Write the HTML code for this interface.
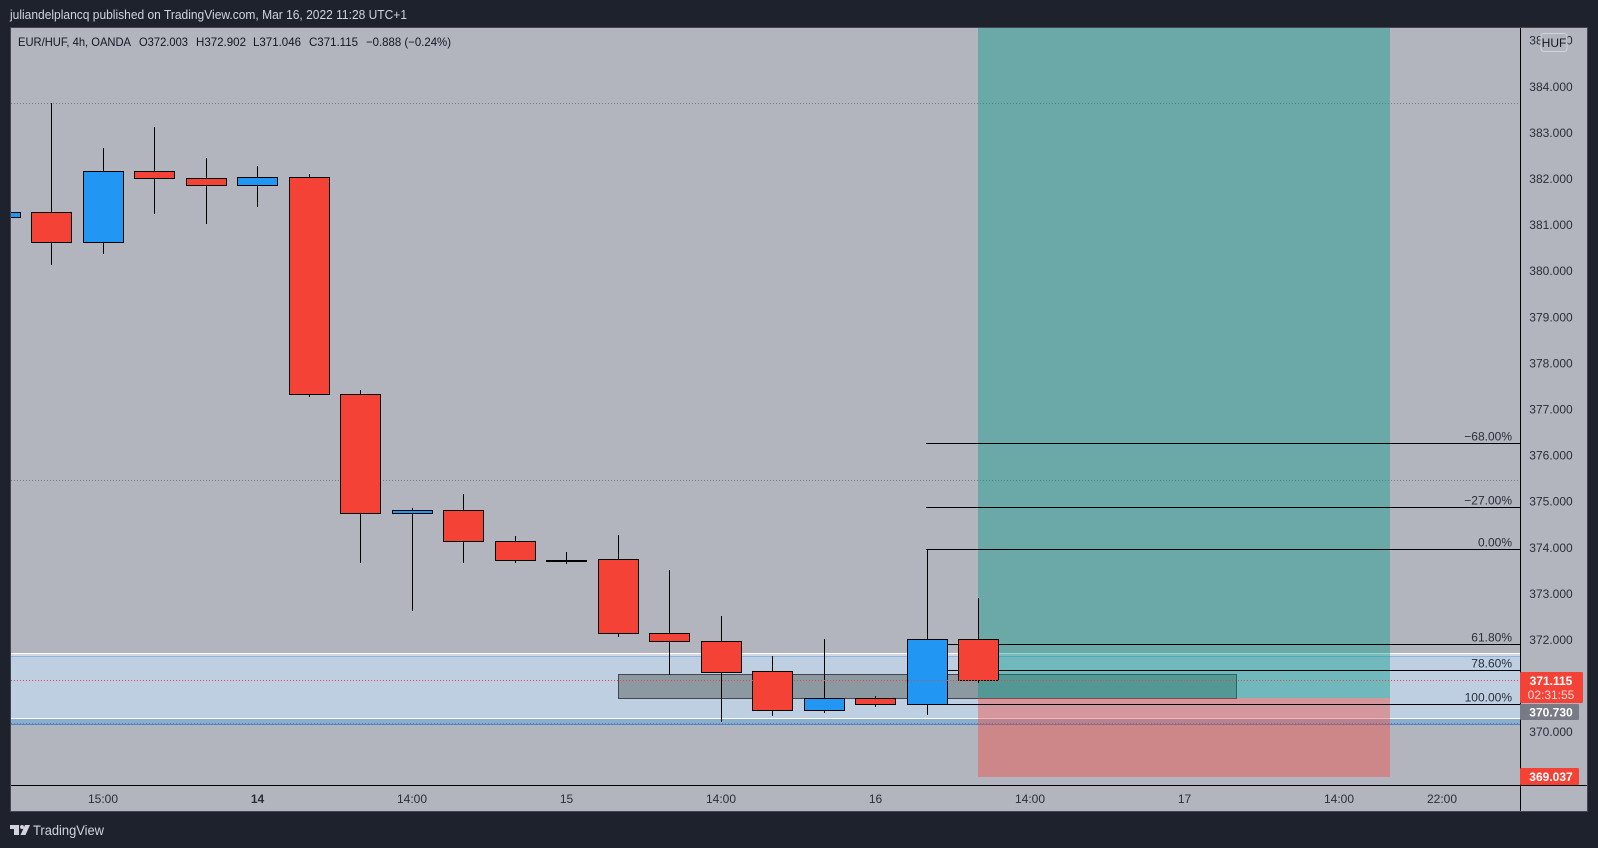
<!DOCTYPE html>
<html lang="en">
<head>
<meta charset="utf-8">
<title>EUR/HUF 4h chart</title>
<style>
html,body{margin:0;padding:0;background:#1e222d;width:1598px;height:848px;overflow:hidden}
svg{display:block;font-family:"Liberation Sans",sans-serif}
</style>
</head>
<body>
<svg id="root" width="1598" height="848" viewBox="0 0 1598 848" xmlns="http://www.w3.org/2000/svg">
  <defs><clipPath id="paneClip"><rect x="11" y="28" width="1509" height="757"/></clipPath></defs>
  <rect x="0" y="0" width="1598" height="848" fill="#1e222d"/>
  <text x="10" y="19" font-size="12.5" fill="#d1d4dc" textLength="397" lengthAdjust="spacingAndGlyphs">juliandelplancq published on TradingView.com, Mar 16, 2022 11:28 UTC+1</text>
  <rect x="10.5" y="27.5" width="1577" height="784" fill="#b2b5be" stroke="#434651"/>
  <g id="plot" clip-path="url(#paneClip)"></g>
  <g id="axes"></g>
  <g font-size="12" fill="#131722">
    <text x="18" y="46" textLength="113" lengthAdjust="spacingAndGlyphs">EUR/HUF, 4h, OANDA</text>
    <text x="139" y="46" textLength="49" lengthAdjust="spacingAndGlyphs">O372.003</text>
    <text x="196" y="46" textLength="50" lengthAdjust="spacingAndGlyphs">H372.902</text>
    <text x="253" y="46" textLength="48" lengthAdjust="spacingAndGlyphs">L371.046</text>
    <text x="309" y="46" textLength="49" lengthAdjust="spacingAndGlyphs">C371.115</text>
    <text x="366" y="46" textLength="85" lengthAdjust="spacingAndGlyphs">−0.888 (−0.24%)</text>
  </g>
  <g>
    <polygon points="10,825 19,825 19,835 14,835 14,829 10,829" fill="#d1d4dc"/>
    <circle cx="22" cy="827" r="2" fill="#d1d4dc"/>
    <polygon points="25,825 30,825 25.5,835 20.5,835" fill="#d1d4dc"/>
    <text x="33" y="835" font-size="14" fill="#d1d4dc" textLength="71" lengthAdjust="spacingAndGlyphs">TradingView</text>
  </g>
</svg>
<script>
// ---- candle data ----
const opens  = [381.16,381.27,380.62,382.16,382.00,381.85,382.03,377.32,374.73,374.80,374.14,373.73,373.74,372.13,371.96,371.31,370.46,370.72,370.59,372.003];
const highs  = [381.30,383.63,382.66,383.12,382.44,382.27,382.10,377.41,374.86,375.15,374.25,373.90,374.27,373.51,372.51,371.64,372.01,370.77,373.96,372.902];
const lows   = [381.10,380.12,380.37,381.24,381.02,381.39,377.27,373.67,372.61,373.67,373.67,373.64,372.06,371.24,370.20,370.35,370.41,370.54,370.37,371.046];
const closes = [381.27,380.62,382.16,382.00,381.85,382.03,377.32,374.73,374.80,374.14,373.71,373.715,372.13,371.96,371.30,370.46,370.72,370.59,372.00,371.115];

// ---- axis labels ----
const priceTicks = [385,384,383,382,381,380,379,378,377,376,375,374,373,372,370];
const timeSlots  = [1,4,7,10,13,16,19,22,25,27];
const timeLabels = ['15:00','14','14:00','15','14:00','16','14:00','17','14:00','22:00'];
const timeBold   = [false,true,false,false,false,false,false,false,false,false];

// ---- drawing-tool values ----
const fibLevels  = ['−68.00%','−27.00%','0.00%','61.80%','78.60%','100.00%'];
const fibPrices  = [376.25,374.86,373.96,371.90,371.33,370.59];
const dottedPrices = [383.63,375.44,370.17];
const lastPrice = 371.115;
const entryPrice = 370.73;
const stopPrice = 369.037;
const targetPrice = 385.5;
const countdown = '02:31:55';

// ---- axis functions ----
const xOf = i => 51.5 * (i + 1);
const yOf = p => 639.5 + (372 - p) * 46.1;
const snap = v => Math.floor(v) + 0.5;
const NS = 'http://www.w3.org/2000/svg';
const plot = document.getElementById('plot');
const axes = document.getElementById('axes');
function make(tag, attrs, parent) {
  const el = document.createElementNS(NS, tag);
  for (const k in attrs) el.setAttribute(k, attrs[k]);
  parent.appendChild(el);
  return el;
}

// demand zone band
const bandTop = make('rect', {x:0, y:653, width:1530, height:1, fill:'#ffffff'}, plot);


const bandGap = make('rect', {x:0, y:654, width:1530, height:2, fill:'#d3d8e1'}, plot);


const bandLine = make('rect', {x:0, y:656, width:1530, height:1, fill:'#8db5df'}, plot);


const bandFill = make('rect', {x:0, y:657, width:1530, height:61, fill:'#bdcfe1'}, plot);


const bandBottom = make('rect', {x:0, y:718, width:1530, height:1, fill:'#ffffff'}, plot);


const bandStrip = make('rect', {x:0, y:719, width:1530, height:5, fill:'#8aaecf'}, plot);


const bandBase = make('rect', {x:0, y:724, width:1530, height:1, fill:'#4a88cc'}, plot);



// dotted horizontal lines
dottedPrices.forEach(p => {
  const y = snap(yOf(p));
  const line = make('line', {x1:11, x2:1520, y1:y, y2:y, stroke:'#787b86', 'stroke-width':1, 'stroke-dasharray':'1 2'}, plot);
  
  
});

// grey rectangle drawing
const grayX1 = xOf(11), grayX2 = xOf(23);
const gray = make('rect', {x:snap(grayX1), y:snap(yOf(371.24)), width:Math.round(grayX2-grayX1), height:24, fill:'rgba(70,72,66,.4)', stroke:'#434651', 'stroke-width':1, 'shape-rendering':'crispEdges'}, plot);



// long position tool
const posX = Math.floor(xOf(18)), posW = Math.floor(xOf(26)) - posX;
const profitBottom = Math.round(yOf(entryPrice));
const lossBottom = Math.round(yOf(stopPrice) + 0.6);
const profit = make('rect', {x:posX, y:yOf(targetPrice), width:posW, height:profitBottom-yOf(targetPrice), fill:'rgba(0,150,136,.4)', 'shape-rendering':'crispEdges'}, plot);


const loss = make('rect', {x:posX, y:profitBottom, width:posW, height:lossBottom-profitBottom, fill:'rgba(244,67,54,.4)', 'shape-rendering':'crispEdges'}, plot);



// fib lines
fibLevels.forEach((lab, i) => {
  const y = snap(yOf(fibPrices[i]));
  const line = make('line', {x1:xOf(17)-1, x2:1520, y1:y, y2:y, stroke:'#000', 'stroke-width':1, 'shape-rendering':'crispEdges'}, plot);
  
  
  const t = make('text', {x:1512, y:y-3, 'text-anchor':'end', 'font-size':12, fill:'#2a2e39'}, plot);
  t.textContent = lab;
  
  
});

// candles
opens.forEach((o, i) => {
  const c = closes[i], h = highs[i], l = lows[i];
  const cx = snap(xOf(i - 1));
  const wick = make('line', {x1:cx, x2:cx, y1:Math.round(yOf(h)), y2:Math.round(yOf(l)), stroke:'#000', 'stroke-width':1, 'shape-rendering':'crispEdges'}, plot);
  
  
  const top = snap(yOf(Math.max(o, c)) + 0.3), bot = snap(yOf(Math.min(o, c)) + 0.3);
  const body = make('rect', {x:cx-20, y:top, width:40, height:Math.max(bot-top,1), fill:c>=o?'#2196f3':'#f44336', stroke:'#000', 'stroke-width':1, 'shape-rendering':'crispEdges'}, plot);
  
  
});

// last price line
const lastY = snap(yOf(lastPrice));
const lastLine = make('line', {x1:11, x2:1520, y1:lastY, y2:lastY, stroke:'#f44336', 'stroke-width':1, 'stroke-dasharray':'1 2'}, plot);



// axis lines
const vAxis = make('line', {x1:1520.5, x2:1520.5, y1:28, y2:811, stroke:'#000', 'stroke-width':1}, axes);


const hAxis = make('line', {x1:11, x2:1587, y1:785.5, y2:785.5, stroke:'#000', 'stroke-width':1}, axes);



// price ticks
priceTicks.forEach(p => {
  const t = make('text', {x:1551, y:yOf(p)+4.5, 'text-anchor':'middle', 'font-size':12, fill:'#2a2e39'}, axes);
  t.textContent = p.toFixed(3);
  
  
});

// time ticks
timeSlots.forEach((s, i) => {
  const t = make('text', {x:xOf(s), y:803, 'text-anchor':'middle', 'font-size':12, 'font-weight':timeBold[i]?'bold':'normal', fill:'#2a2e39'}, axes);
  t.textContent = timeLabels[i];
  
  
});

// price tags
const tagLast = make('rect', {x:1520, y:672, width:63, height:31, rx:1, fill:'#f44336'}, axes);


const tagLastText = make('text', {x:1551, y:685, 'text-anchor':'middle', 'font-size':12, 'font-weight':'bold', fill:'#fff'}, axes);
tagLastText.textContent = lastPrice.toFixed(3);


const tagCount = make('text', {x:1551, y:699, 'text-anchor':'middle', 'font-size':12, fill:'#fcdcd9'}, axes);
tagCount.textContent = countdown;


const tagEntry = make('rect', {x:1520, y:704, width:59, height:16, rx:1, fill:'#787b86'}, axes);


const tagEntryText = make('text', {x:1551, y:716.5, 'text-anchor':'middle', 'font-size':12, 'font-weight':'bold', fill:'#fff'}, axes);
tagEntryText.textContent = entryPrice.toFixed(3);


const tagStop = make('rect', {x:1520, y:768, width:59, height:17, rx:1, fill:'#f44336'}, axes);


const tagStopText = make('text', {x:1551, y:781, 'text-anchor':'middle', 'font-size':12, 'font-weight':'bold', fill:'#fff'}, axes);
tagStopText.textContent = stopPrice.toFixed(3);



// currency button
const hufBox = make('rect', {x:1541, y:33.5, width:26, height:18, rx:3, fill:'#b2b5be', stroke:'#d1d4dc', 'stroke-width':1}, axes);


const hufText = make('text', {x:1554, y:47, 'text-anchor':'middle', 'font-size':12, fill:'#131722'}, axes);
hufText.textContent = 'HUF';


</script>
</body>
</html>
